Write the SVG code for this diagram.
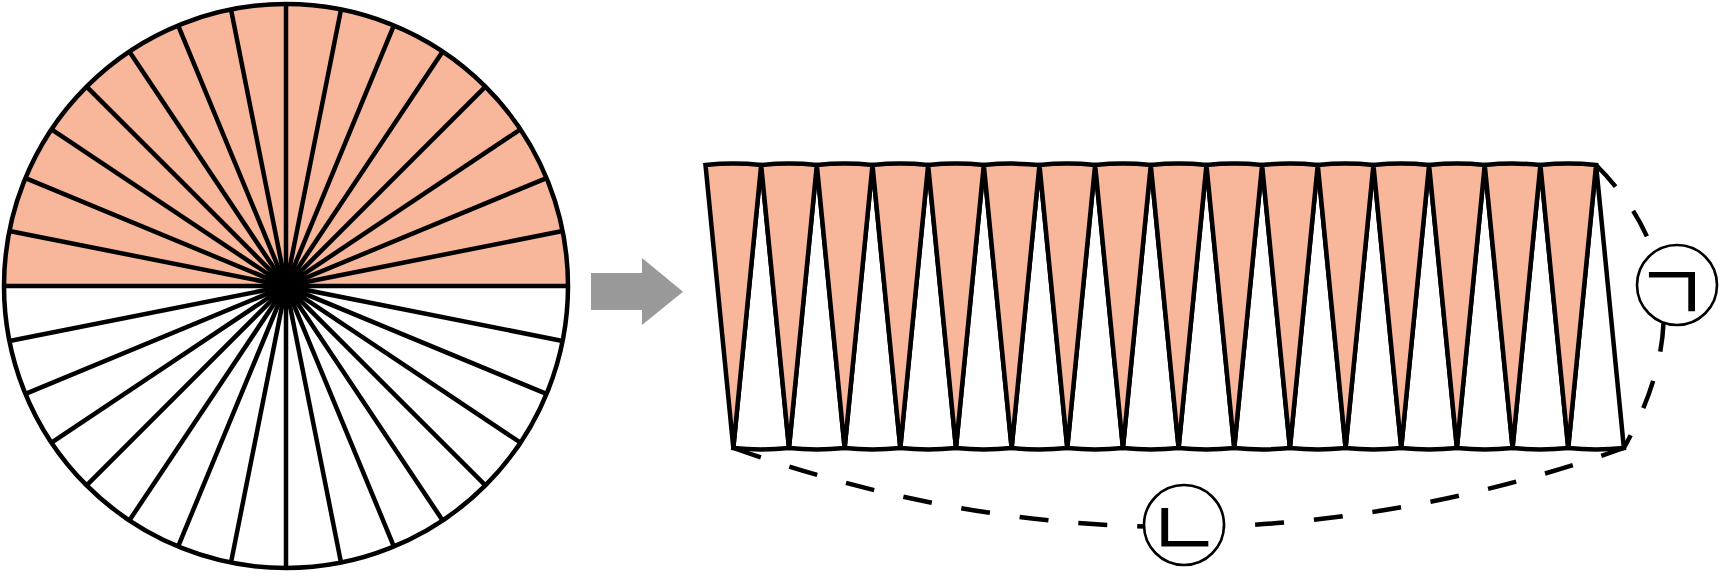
<svg xmlns="http://www.w3.org/2000/svg" width="1722" height="579" viewBox="0 0 1722 579">
<style>
.ln{stroke:#000;stroke-width:4.5;fill:none;stroke-linecap:butt}
.sal{fill:#F8B69B;stroke:#000;stroke-width:4.5;stroke-linejoin:miter}
.wht{fill:#fff;stroke:#000;stroke-width:4.5;stroke-linejoin:miter}
.dash{fill:none;stroke:#000;stroke-width:4.5;stroke-dasharray:29 30}
.lab{fill:#fff;stroke:#000;stroke-width:2.6}
.txt{font-family:"Noto Sans CJK KR","Noto Sans CJK SC",sans-serif;font-size:82px;font-weight:400;fill:#000;text-anchor:middle;dominant-baseline:central}
</style>
<rect width="1722" height="579" fill="#fff"/>
<g id="disc">
<path d="M4,286 A282,282 0 0 1 568,286 Z" fill="#F8B69B"/>
<g class="ln">
<line x1="4" y1="286" x2="568" y2="286"/>
<line x1="562.58" y1="230.98" x2="9.42" y2="341.02"/>
<line x1="546.53" y1="178.08" x2="25.47" y2="393.92"/>
<line x1="520.47" y1="129.33" x2="51.53" y2="442.67"/>
<line x1="485.40" y1="86.60" x2="86.60" y2="485.40"/>
<line x1="442.67" y1="51.53" x2="129.33" y2="520.47"/>
<line x1="393.92" y1="25.47" x2="178.08" y2="546.53"/>
<line x1="341.02" y1="9.42" x2="230.98" y2="562.58"/>
<line x1="286" y1="4" x2="286" y2="568"/>
<line x1="230.98" y1="9.42" x2="341.02" y2="562.58"/>
<line x1="178.08" y1="25.47" x2="393.92" y2="546.53"/>
<line x1="129.33" y1="51.53" x2="442.67" y2="520.47"/>
<line x1="86.60" y1="86.60" x2="485.40" y2="485.40"/>
<line x1="51.53" y1="129.33" x2="520.47" y2="442.67"/>
<line x1="25.47" y1="178.08" x2="546.53" y2="393.92"/>
<line x1="9.42" y1="230.98" x2="562.58" y2="341.02"/>
<circle cx="286" cy="286" r="282"/>
</g>
<circle cx="286" cy="286" r="22" fill="#000"/>
</g>
<g id="arrow">
<polygon points="591,273 642,273 642,258 683,291.7 642,325 642,310 591,310" fill="#999999"/>
</g>
<g id="strip">
<path class="wht" d="M733.33,448 L761.16,165 L788.99,448 A282,282 0 0 1 733.33,448 Z"/>
<path class="wht" d="M788.99,448 L816.82,165 L844.65,448 A282,282 0 0 1 788.99,448 Z"/>
<path class="wht" d="M844.65,448 L872.48,165 L900.31,448 A282,282 0 0 1 844.65,448 Z"/>
<path class="wht" d="M900.31,448 L928.14,165 L955.97,448 A282,282 0 0 1 900.31,448 Z"/>
<path class="wht" d="M955.97,448 L983.80,165 L1011.63,448 A282,282 0 0 1 955.97,448 Z"/>
<path class="wht" d="M1011.63,448 L1039.46,165 L1067.29,448 A282,282 0 0 1 1011.63,448 Z"/>
<path class="wht" d="M1067.29,448 L1095.12,165 L1122.95,448 A282,282 0 0 1 1067.29,448 Z"/>
<path class="wht" d="M1122.95,448 L1150.78,165 L1178.61,448 A282,282 0 0 1 1122.95,448 Z"/>
<path class="wht" d="M1178.61,448 L1206.44,165 L1234.27,448 A282,282 0 0 1 1178.61,448 Z"/>
<path class="wht" d="M1234.27,448 L1262.10,165 L1289.93,448 A282,282 0 0 1 1234.27,448 Z"/>
<path class="wht" d="M1289.93,448 L1317.76,165 L1345.59,448 A282,282 0 0 1 1289.93,448 Z"/>
<path class="wht" d="M1345.59,448 L1373.42,165 L1401.25,448 A282,282 0 0 1 1345.59,448 Z"/>
<path class="wht" d="M1401.25,448 L1429.08,165 L1456.91,448 A282,282 0 0 1 1401.25,448 Z"/>
<path class="wht" d="M1456.91,448 L1484.74,165 L1512.57,448 A282,282 0 0 1 1456.91,448 Z"/>
<path class="wht" d="M1512.57,448 L1540.40,165 L1568.23,448 A282,282 0 0 1 1512.57,448 Z"/>
<path class="wht" d="M1568.23,448 L1596.06,165 L1623.89,448 A282,282 0 0 1 1568.23,448 Z"/>
<path class="sal" d="M705.50,165 A282,282 0 0 1 761.16,165 L733.33,448 Z"/>
<path class="sal" d="M761.16,165 A282,282 0 0 1 816.82,165 L788.99,448 Z"/>
<path class="sal" d="M816.82,165 A282,282 0 0 1 872.48,165 L844.65,448 Z"/>
<path class="sal" d="M872.48,165 A282,282 0 0 1 928.14,165 L900.31,448 Z"/>
<path class="sal" d="M928.14,165 A282,282 0 0 1 983.80,165 L955.97,448 Z"/>
<path class="sal" d="M983.80,165 A282,282 0 0 1 1039.46,165 L1011.63,448 Z"/>
<path class="sal" d="M1039.46,165 A282,282 0 0 1 1095.12,165 L1067.29,448 Z"/>
<path class="sal" d="M1095.12,165 A282,282 0 0 1 1150.78,165 L1122.95,448 Z"/>
<path class="sal" d="M1150.78,165 A282,282 0 0 1 1206.44,165 L1178.61,448 Z"/>
<path class="sal" d="M1206.44,165 A282,282 0 0 1 1262.10,165 L1234.27,448 Z"/>
<path class="sal" d="M1262.10,165 A282,282 0 0 1 1317.76,165 L1289.93,448 Z"/>
<path class="sal" d="M1317.76,165 A282,282 0 0 1 1373.42,165 L1345.59,448 Z"/>
<path class="sal" d="M1373.42,165 A282,282 0 0 1 1429.08,165 L1401.25,448 Z"/>
<path class="sal" d="M1429.08,165 A282,282 0 0 1 1484.74,165 L1456.91,448 Z"/>
<path class="sal" d="M1484.74,165 A282,282 0 0 1 1540.40,165 L1512.57,448 Z"/>
<path class="sal" d="M1540.40,165 A282,282 0 0 1 1596.06,165 L1568.23,448 Z"/>
</g>
<g id="connectors">
<path class="dash" d="M733.33,448 Q1178.6,606 1623.89,448"/>
<path class="dash" d="M1596.06,165 C1690,259 1673,360 1623.89,448"/>
</g>
<g id="label-giyeok">
<circle class="lab" cx="1677" cy="285" r="40"/>
<text class="txt" x="1672" y="286">ㄱ</text>
</g>
<g id="label-nieun">
<circle class="lab" cx="1184" cy="525" r="40"/>
<text class="txt" x="1184" y="522">ㄴ</text>
</g>
</svg>
